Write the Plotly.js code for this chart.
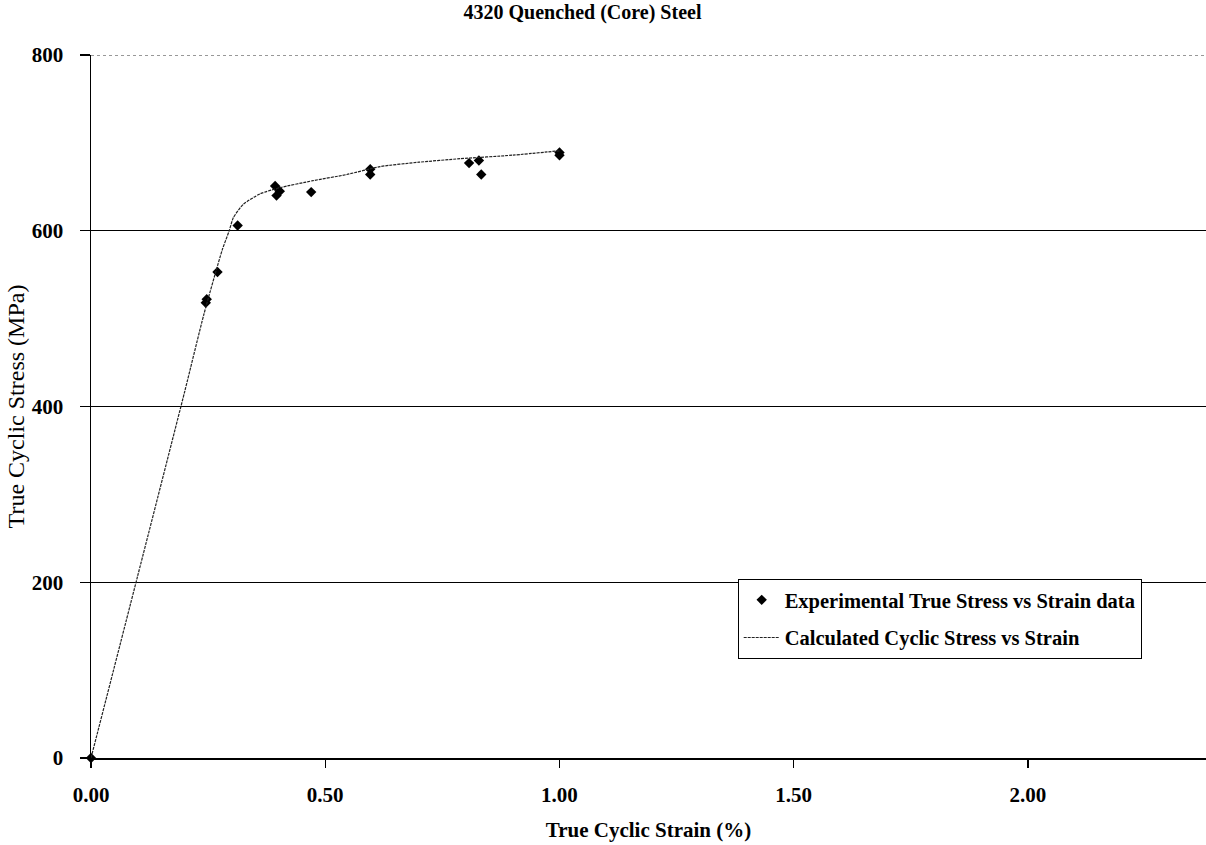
<!DOCTYPE html>
<html>
<head>
<meta charset="utf-8">
<script src="https://cdn.plot.ly/plotly-3.0.1.min.js"></script>
<style>html,body{margin:0;padding:0;background:#fff;}#chart{width:1206px;height:845px;}</style>
</head>
<body>
<div id="chart"></div>
<script>
// Experimental data points (strain %, stress MPa)
const expStrain = [0, 0.245, 0.247, 0.27, 0.313, 0.393, 0.396, 0.403, 0.47, 0.596, 0.596, 0.807, 0.828, 0.833, 1.0, 1.0];
const expStress = [0, 518, 522, 553, 606, 651, 640, 645, 644, 670, 664, 677, 680, 664, 689, 686];

// Calculated cyclic stress-strain curve
const calcStrain = [0, 0.1, 0.2, 0.241, 0.28, 0.295, 0.304, 0.325, 0.361, 0.403, 0.474, 0.546, 0.617, 0.70, 0.788, 0.90, 1.0];
const calcStress = [0, 208, 417, 505, 578, 600, 615, 630, 642, 649, 657, 664, 673, 678, 682, 686, 691];

const xTicks = [0, 0.5, 1.0, 1.5, 2.0];
const xTickText = ['0.00', '0.50', '1.00', '1.50', '2.00'];
const yTicks = [0, 200, 400, 600, 800];

const chartTitle = '4320 Quenched (Core) Steel';
const xTitle = 'True Cyclic Strain (%)';
const yTitle = 'True Cyclic Stress (MPa)';
const seriesNames = ['Experimental True Stress vs Strain data', 'Calculated Cyclic Stress vs Strain'];

const serif = 'Liberation Serif, Times New Roman, serif';

const traces = [
  {
    x: expStrain, y: expStress, type: 'scatter', mode: 'markers',
    name: seriesNames[0], legendgroup: 'a', cliponaxis: false,
    marker: {symbol: 'diamond', size: 8, color: '#000'}
  },
  {
    x: calcStrain, y: calcStress, type: 'scatter', mode: 'lines',
    name: seriesNames[1], legendgroup: 'b',
    line: {color: '#222', width: 1.2, dash: '3px,1px', shape: 'spline', smoothing: 0.6}
  }
];

const layout = {
  width: 1206, height: 845,
  paper_bgcolor: '#fff', plot_bgcolor: '#fff',
  margin: {l: 91, r: 0, t: 55, b: 87},
  font: {family: serif, color: '#000'},
  title: {
    text: chartTitle, font: {family: serif, size: 20, weight: 'bold', color: '#000'},
    x: 0.483, xref: 'container', xanchor: 'center',
    y: 1 - 12 / 845, yref: 'container', yanchor: 'middle'
  },
  xaxis: {
    range: [0, 2.38], tickvals: xTicks, ticktext: xTickText,
    showgrid: false, zeroline: false,
    showline: true, linecolor: '#000', linewidth: 1.5,
    ticks: 'outside', ticklen: 8, tickwidth: 1.2, tickcolor: '#000',
    ticklabelstandoff: 9,
    tickfont: {family: serif, size: 21, weight: 'bold', color: '#000'},
    title: {text: xTitle, font: {family: serif, size: 21, weight: 'bold', color: '#000'}, standoff: 16}
  },
  yaxis: {
    range: [0, 800], tickvals: yTicks,
    showgrid: true, gridcolor: '#000', gridwidth: 1.2,
    zeroline: false,
    showline: true, linecolor: '#000', linewidth: 1.5,
    ticks: 'outside', ticklen: 10, tickwidth: 1.2, tickcolor: '#000',
    ticklabelstandoff: 12,
    tickfont: {family: serif, size: 21, weight: 'bold', color: '#000'},
    title: {text: yTitle, font: {family: serif, size: 24, color: '#000'}, standoff: 0}
  },
  shapes: [
    {type: 'line', xref: 'paper', x0: 0, x1: 1, yref: 'y', y0: 800, y1: 800, layer: 'above', line: {color: '#fff', width: 3}},
    {type: 'line', xref: 'paper', x0: 0, x1: 1, yref: 'y', y0: 800, y1: 800, layer: 'above', line: {color: '#333', width: 1, dash: 'dot'}}
  ],
  showlegend: true,
  legend: {
    x: 0.58, y: 0.2546, xanchor: 'left', yanchor: 'top',
    bgcolor: '#fff', bordercolor: '#000', borderwidth: 1,
    font: {family: serif, size: 20.5, weight: 'bold', color: '#000'},
    itemwidth: 36,
    tracegroupgap: 8
  }
};

Plotly.newPlot('chart', traces, layout, {displayModeBar: false, staticPlot: true});
</script>
</body>
</html>
